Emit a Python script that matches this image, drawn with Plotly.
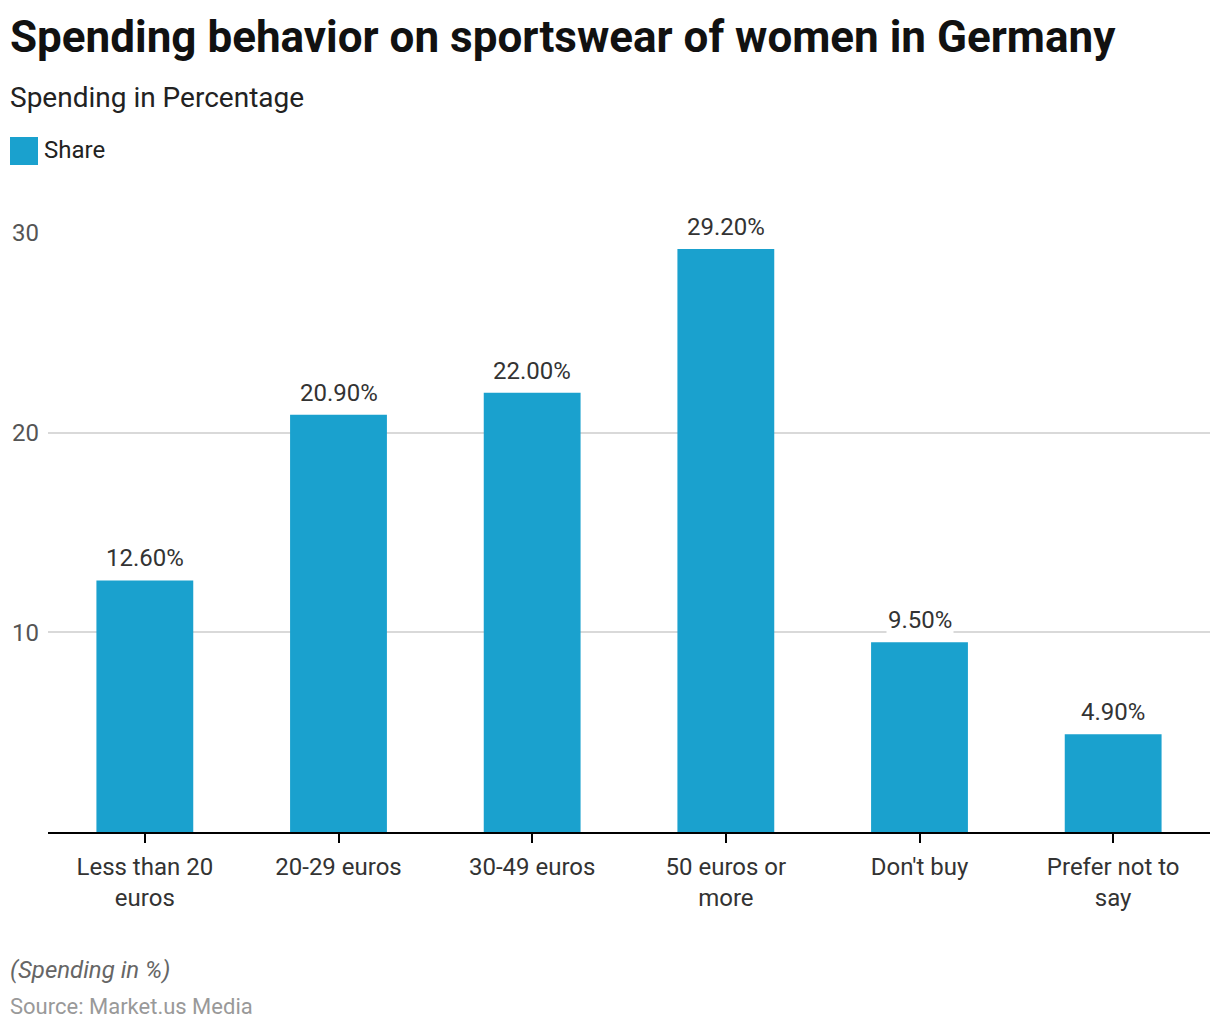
import plotly.graph_objects as go

categories = ["Less than 20<br>euros", "20-29 euros", "30-49 euros", "50 euros or<br>more", "Don't buy", "Prefer not to<br>say"]
share = [12.6, 20.9, 22.0, 29.2, 9.5, 4.9]
y_ticks = [10, 20, 30]

BAR = "#1aa1ce"
FONT = "Roboto"

fig = go.Figure()
fig.add_trace(go.Bar(x=categories, y=share, marker=dict(color=BAR, line=dict(width=0)), width=0.5,
                     name="Share", showlegend=False, hoverinfo="x+y"))

annotations = []
for c, v in zip(categories, share):
    annotations.append(dict(x=c, y=v, xref="x", yref="y", text=f"{v:.2f}%",
                            showarrow=False, yanchor="bottom", yshift=6,
                            font=dict(family=FONT, size=24, color="#333333"),
                            bgcolor="white", borderpad=1))

annotations += [
    dict(xref="paper", yref="paper", x=0, y=1, xshift=-40, yshift=196, xanchor="left", yanchor="middle",
         text="<b>Spending behavior on sportswear of women in Germany</b>", showarrow=False,
         font=dict(family=FONT, size=44, color="#111111")),
    dict(xref="paper", yref="paper", x=0, y=1, xshift=-40, yshift=136, xanchor="left", yanchor="middle",
         text="Spending in Percentage", showarrow=False,
         font=dict(family=FONT, size=28, color="#222222")),
    dict(xref="paper", yref="paper", x=0, y=1, xshift=-6, yshift=83, xanchor="left", yanchor="middle",
         text="Share", showarrow=False,
         font=dict(family=FONT, size=24, color="#222222")),
    dict(xref="paper", yref="paper", x=0, y=0, xshift=-40, yshift=-138, xanchor="left", yanchor="middle",
         text="<i>(Spending in %)</i>", showarrow=False,
         font=dict(family=FONT, size=24, color="#666666")),
    dict(xref="paper", yref="paper", x=0, y=0, xshift=-40, yshift=-174, xanchor="left", yanchor="middle",
         text="Source: Market.us Media", showarrow=False,
         font=dict(family=FONT, size=22, color="#999999")),
]

fig.update_layout(
    width=1220, height=1030,
    margin=dict(l=40, r=18, t=225, b=206, autoexpand=False),
    paper_bgcolor="white", plot_bgcolor="white",
    font=dict(family=FONT),
    annotations=annotations,
    shapes=[dict(type="rect", xref="paper", yref="paper", xsizemode="pixel", ysizemode="pixel",
                 xanchor=0, yanchor=1, x0=-38, x1=-10, y0=68, y1=96,
                 fillcolor=BAR, line=dict(width=0))],
)
fig.update_xaxes(showline=True, linecolor="black", linewidth=2, ticks="outside",
                 tickcolor="black", tickwidth=2, ticklen=9, automargin=False,
                 ticklabelstandoff=3,
                 tickfont=dict(family=FONT, size=24, color="#333333"), showgrid=False)
fig.update_yaxes(range=[0, 30], tickvals=y_ticks, showgrid=True, gridcolor="#d9d9d9", gridwidth=1.5,
                 zeroline=False, showline=False, ticks="", automargin=False,
                 tickfont=dict(family=FONT, size=24, color="#555555"), ticklabelstandoff=8)

fig.write_html("out.html")
